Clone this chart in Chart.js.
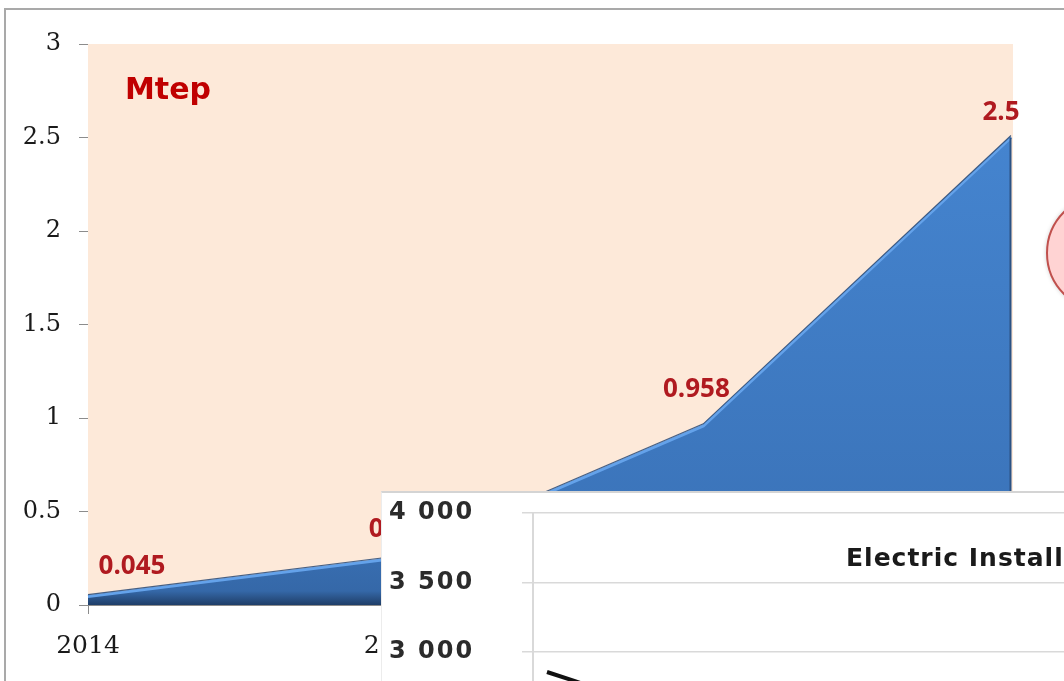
<!DOCTYPE html>
<html>
<head>
<meta charset="utf-8">
<script src="https://cdn.jsdelivr.net/npm/chart.js@4.4.1/dist/chart.umd.min.js"></script>
<style>
  html, body { margin:0; padding:0; }
  body { width:1064px; height:681px; overflow:hidden; position:relative; background:#ffffff; }
  #frame { position:absolute; left:4px; top:8px; width:1200px; height:800px;
           border-left:2px solid #a9a9a9; border-top:2px solid #a9a9a9; }
  #mainWrap { position:absolute; left:0; top:0; width:1064px; height:681px; }
  #mtep { position:absolute; left:125px; top:74px; font:bold 30px/30px "DejaVu Sans", sans-serif;
          color:#C00000; white-space:nowrap; }
  #callout { position:absolute; left:1046px; top:194px; width:114px; height:114px; border-radius:50%;
             background:#FFD3D3; border:2px solid #C0504D; box-shadow:0 0 4px rgba(0,0,0,0.18); }
  #insetPanel { position:absolute; left:381px; top:491px; width:720px; height:220px; background:#fff;
                border-top:2px solid #d4d4d4; border-left:1px solid #ececec; }
  #insetWrap { position:absolute; left:383px; top:492px; width:682px; height:400px; }
  #insetTitle { position:absolute; left:846px; top:545px; font:bold 25px/25px "DejaVu Sans", sans-serif;
                letter-spacing:1px; color:#1a1a1a; white-space:nowrap; }
</style>
</head>
<body>
<div id="frame"></div>
<div id="mainWrap"><canvas id="mainChart"></canvas></div>
<div id="mtep">Mtep</div>
<div id="callout"></div>
<div id="insetPanel"></div>
<div id="insetWrap"><canvas id="insetChart"></canvas></div>
<div id="insetTitle">Electric Installed Capacity</div>
<script>
// ---- main chart data ----
const years = ['2014', '2020', '2025', '2030'];
const mtepValues = [0.045, 0.25, 0.958, 2.5];
const yTicks = [0, 0.5, 1, 1.5, 2, 2.5, 3];

// ---- inset chart data ----
const insetYears = ['2012','2013','2014','2015','2016','2017','2018','2019','2020','2021',
                    '2022','2023','2024','2025','2026','2027','2028','2029','2030'];
const insetValues = [2856, 2790, 2720, 2650, 2600, 2560];
const insetYTicks = [2000, 2500, 3000, 3500, 4000];

// label offsets (style only)
const labelDx = [44, -1, -7, -10];
const labelDy = [-30, -29, -36, -25];

const plotBg = {
  id: 'plotBg',
  beforeDatasetsDraw(chart) {
    const a = chart.chartArea, ctx = chart.ctx;
    ctx.save();
    ctx.fillStyle = '#FDE9D9';
    ctx.fillRect(a.left, a.top, a.right - a.left + 2, a.bottom - a.top);
    ctx.restore();
  }
};

const areaDecor = {
  id: 'areaDecor',
  afterDatasetsDraw(chart) {
    const ctx = chart.ctx, pts = chart.getDatasetMeta(0).data, a = chart.chartArea;
    ctx.save();
    ctx.beginPath();
    pts.forEach((p, i) => { i ? ctx.lineTo(p.x, p.y - 2) : ctx.moveTo(p.x, p.y - 2); });
    ctx.strokeStyle = 'rgba(40,72,115,0.85)';
    ctx.lineWidth = 1.2;
    ctx.stroke();
    const last = pts[pts.length - 1];
    ctx.beginPath();
    ctx.moveTo(last.x - 0.5, last.y);
    ctx.lineTo(last.x - 0.5, a.bottom);
    ctx.strokeStyle = '#2c5283';
    ctx.lineWidth = 2;
    ctx.stroke();
    // data labels
    ctx.font = 'bold 26px "Open Sans", sans-serif';
    ctx.fillStyle = '#B01A20';
    ctx.textAlign = 'center';
    ctx.textBaseline = 'middle';
    pts.forEach((p, i) => {
      ctx.fillText(String(mtepValues[i]), p.x + labelDx[i], p.y + labelDy[i]);
    });
    ctx.restore();
  }
};

new Chart(document.getElementById('mainChart'), {
  type: 'line',
  data: {
    labels: years,
    datasets: [{
      data: mtepValues,
      fill: 'origin',
      tension: 0,
      pointRadius: 0,
      borderColor: '#64A2EA',
      borderWidth: 3,
      backgroundColor: (c) => {
        const a = c.chart.chartArea;
        if (!a) return '#3B74BA';
        const g = c.chart.ctx.createLinearGradient(0, a.top, 0, a.bottom);
        g.addColorStop(0, '#4788D4');
        g.addColorStop(0.85, '#3B74BA');
        g.addColorStop(0.975, '#3568A8');
        g.addColorStop(1, '#1F3E68');
        return g;
      }
    }]
  },
  options: {
    responsive: true,
    maintainAspectRatio: false,
    animation: false,
    layout: { padding: { top: 44, right: 53, left: 0, bottom: 0 } },
    plugins: { legend: { display: false }, tooltip: { enabled: false }, title: { display: false } },
    scales: {
      x: {
        type: 'category',
        offset: false,
        grid: { drawOnChartArea: false, drawTicks: true, tickLength: 9, color: '#8c8c8c' },
        border: { color: '#8c8c8c' },
        ticks: { font: { family: '"DejaVu Serif", serif', size: 25 }, color: '#1a1a1a',
                 padding: 17, maxRotation: 0, autoSkip: false },
        afterFit: (s) => { s.height = 76; }
      },
      y: {
        min: 0, max: 3,
        afterBuildTicks: (s) => { s.ticks = yTicks.map(v => ({ value: v })); },
        grid: { drawOnChartArea: false, drawTicks: true, tickLength: 9, color: '#8c8c8c' },
        border: { color: '#8c8c8c' },
        ticks: { font: { family: '"DejaVu Serif", serif', size: 24 }, color: '#1a1a1a', padding: 18,
                 callback: (v) => String(v) },
        afterFit: (s) => { s.width = 88; }
      }
    }
  },
  plugins: [plotBg, areaDecor]
});

const fmtThousands = (v) => String(v).replace(/\B(?=(\d{3})+(?!\d))/g, ' ');

const wideTicks = {
  id: 'wideTicks',
  beforeDraw(chart) { chart.ctx.letterSpacing = '2px'; }
};

new Chart(document.getElementById('insetChart'), {
  type: 'line',
  data: {
    labels: insetYears,
    datasets: [{
      data: insetValues,
      borderColor: '#111111',
      borderWidth: 4,
      pointRadius: 0,
      tension: 0,
      fill: false
    }]
  },
  options: {
    responsive: true,
    maintainAspectRatio: false,
    animation: false,
    layout: { padding: { top: 21, right: 0, left: 6, bottom: 0 } },
    plugins: { legend: { display: false }, tooltip: { enabled: false } },
    scales: {
      x: {
        type: 'category',
        offset: true,
        grid: { display: false },
        border: { display: false },
        ticks: { display: false },
        afterFit: (s) => { s.height = 101; }
      },
      y: {
        min: 2000, max: 4000,
        afterBuildTicks: (s) => { s.ticks = insetYTicks.map(v => ({ value: v })); },
        grid: { color: '#d9d9d9', lineWidth: 1.5, drawTicks: true, tickLength: 11 },
        border: { color: '#d9d9d9', width: 2 },
        ticks: { font: { family: '"DejaVu Sans", sans-serif', size: 24, weight: 'bold' }, color: '#2b2b2b',
                 padding: 4, crossAlign: 'far', callback: (v) => fmtThousands(v) },
        afterFit: (s) => { s.width = 144; }
      }
    }
  },
  plugins: [wideTicks]
});
</script>
</body>
</html>
